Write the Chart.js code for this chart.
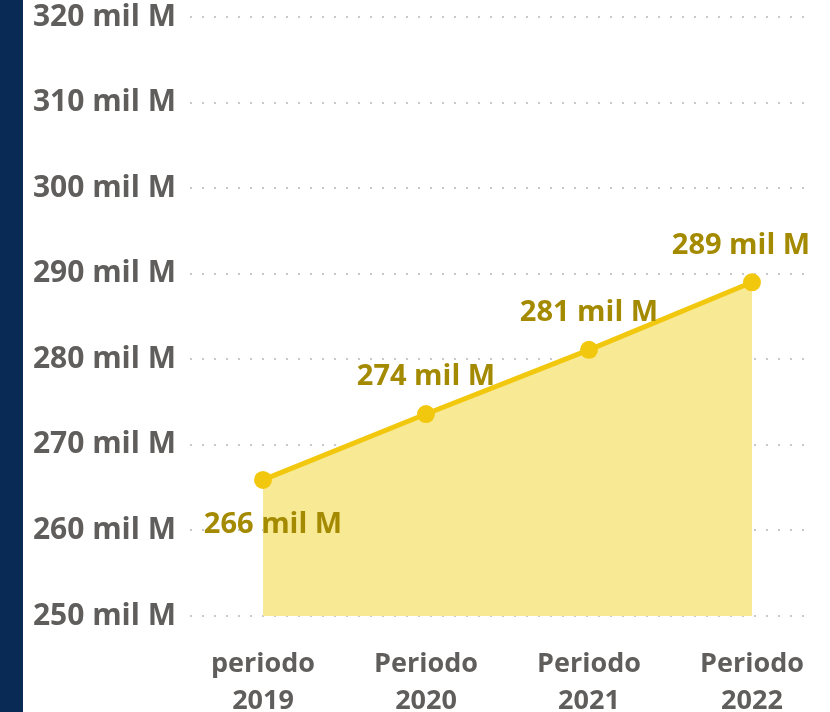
<!DOCTYPE html>
<html>
<head>
<meta charset="utf-8">
<script src="https://cdn.jsdelivr.net/npm/chart.js@4.4.1/dist/chart.umd.min.js"></script>
<style>
  body { margin: 0; background: #fff; }
  #wrap { position: relative; width: 830px; height: 712px; }
  #strip { position: absolute; left: 0; top: 0; width: 23px; height: 712px; background: #0a2a56; }
</style>
</head>
<body>
<div id="wrap">
  <canvas id="lineChart" width="830" height="712"></canvas>
  <div id="strip"></div>
</div>
<script>
// data (values in mil M)
const periods = [["periodo", "2019"], ["Periodo", "2020"], ["Periodo", "2021"], ["Periodo", "2022"]];
const totals = [265.9, 273.6, 281.1, 289.0];
const valueLabels = ["266 mil M", "274 mil M", "281 mil M", "289 mil M"];
const yTicks = [250, 260, 270, 280, 290, 300, 310, 320];

const FONT = "'Open Sans', 'Noto Sans', sans-serif";

// draws the value labels next to each point
const pointLabels = {
  id: "pointLabels",
  afterDatasetsDraw(chart) {
    const ctx = chart.ctx;
    const pts = chart.getDatasetMeta(0).data;
    ctx.save();
    ctx.font = "bold 29px " + FONT;
    ctx.fillStyle = "#a38a00";
    ctx.textAlign = "center";
    ctx.textBaseline = "middle";
    pts.forEach((p, i) => {
      if (i === 0) ctx.fillText(valueLabels[i], p.x + 10, p.y + 45);
      else ctx.fillText(valueLabels[i], p.x - (i === 3 ? 11 : 0), p.y - 37);
    });
    ctx.restore();
  },
};

new Chart(document.getElementById("lineChart"), {
  type: "line",
  data: {
    datasets: [
      {
        data: totals.map((v, i) => ({ x: i, y: v })),
        borderColor: "#f2c80f",
        borderWidth: 5,
        backgroundColor: "#f8e994",
        fill: "start",
        pointRadius: 9,
        pointBackgroundColor: "#f2c80f",
        pointBorderWidth: 0,
        tension: 0,
      },
    ],
  },
  options: {
    responsive: false,
    animation: false,
    layout: { padding: { top: 0, right: 20, left: 0, bottom: 0 } },
    plugins: { legend: { display: false }, tooltip: { enabled: false } },
    scales: {
      x: {
        type: "linear",
        min: -0.448,
        max: 3.356,
        afterBuildTicks: (s) => { s.ticks = periods.map((_, i) => ({ value: i })); },
        afterFit: (s) => { s.height = 96; },
        ticks: {
          callback: (v) => periods[v],
          color: "#605e5c",
          font: { family: FONT, size: 27, weight: "bold", lineHeight: 1.37 },
          padding: 22,
          maxRotation: 0,
        },
        grid: { display: false },
        border: { display: false },
      },
      y: {
        min: 250,
        max: 320,
        afterBuildTicks: (s) => { s.ticks = yTicks.map((v) => ({ value: v })); },
        afterFit: (s) => { s.width = 190; s.paddingTop = 17; s.paddingBottom = 0; },
        ticks: {
          callback: (v) => v + " mil M",
          color: "#605e5c",
          font: { family: FONT, size: 30, weight: "bold" },
          padding: 14,
        },
        grid: { color: "#c8c8c8", lineWidth: 2, drawTicks: false },
        border: { display: false, dash: [2, 10] },
      },
    },
  },
  plugins: [pointLabels],
});
</script>
</body>
</html>
